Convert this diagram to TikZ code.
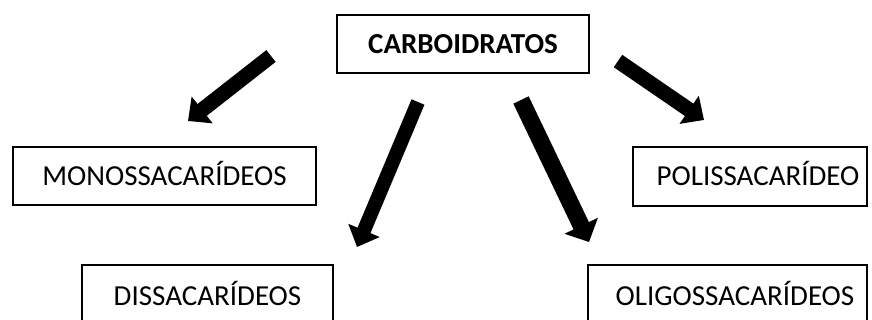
\documentclass[tikz,border=0pt]{standalone}
\usepackage{fontspec}
\setmainfont{Carlito}
\usetikzlibrary{arrows.meta}
\begin{document}
\begin{tikzpicture}[x=1pt,y=-1pt,
  box/.style={draw, line width=1.3pt, inner sep=0pt,
    text height=19pt, text depth=0pt,
    font=\fontsize{29}{34}\selectfont},
  bigarrow/.style={line width=15pt, -{Triangle[length=18pt,width=33pt]}}]
\useasboundingbox (0,0) rectangle (872,320);
\clip (0,0) rectangle (872,320);

% boxes
\node[box, minimum width=252pt, minimum height=58pt,
  font=\fontsize{29}{34}\selectfont\bfseries] (carb) at (463,44) {CARBOIDRATOS};
\node[box, minimum width=303pt, minimum height=58pt] (mono) at (164.5,176) {MONOSSACARÍDEOS};
\node[box, minimum width=234pt, minimum height=59pt] (poli) at (750,176.5) {\hspace{16pt}POLISSACARÍDEO};
\node[box, minimum width=251pt, minimum height=62pt] (dis) at (207.5,296) {DISSACARÍDEOS};
\node[box, minimum width=279pt, minimum height=62pt] (oligo) at (727.5,296) {\hspace{15pt}OLIGOSSACARÍDEOS};

% arrow ends
\coordinate (a1s) at (271,56);  \coordinate (a1e) at (188,121);
\coordinate (a2s) at (418,102); \coordinate (a2e) at (357,247);
\coordinate (a3s) at (521,100); \coordinate (a3e) at (589,242);
\coordinate (a4s) at (618,61);  \coordinate (a4e) at (704,120);

\draw[bigarrow] (a1s) -- (a1e);
\draw[bigarrow, line width=14pt] (a2s) -- (a2e);
\draw[bigarrow, line width=17pt, -{Triangle[length=18pt,width=36pt]}] (a3s) -- (a3e);
\draw[bigarrow] (a4s) -- (a4e);
\end{tikzpicture}
\end{document}
